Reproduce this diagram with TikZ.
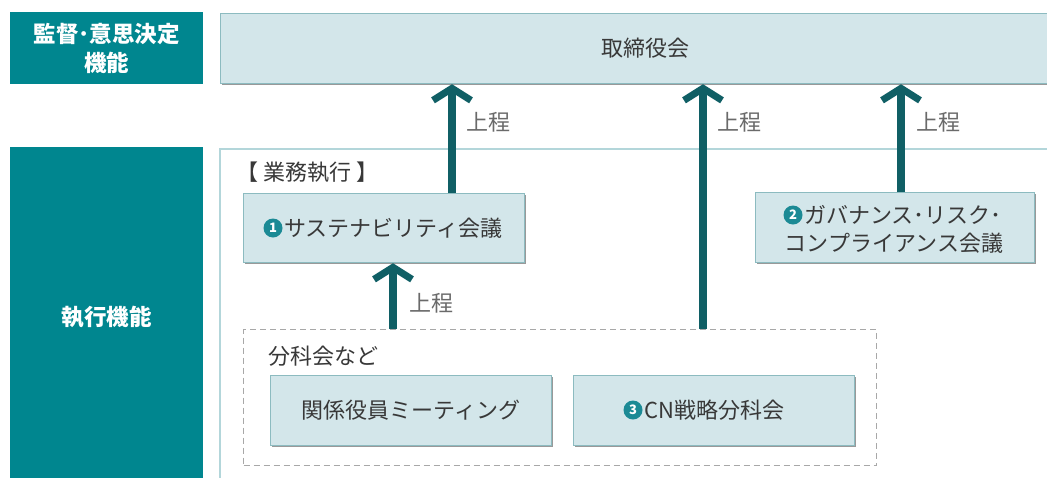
\documentclass[tikz,border=0pt]{standalone}
\usepackage{fontspec}
\setmainfont{Noto Sans CJK JP}
\usetikzlibrary{arrows.meta,shadows}
\definecolor{teal1}{HTML}{00868F}
\definecolor{arrowc}{HTML}{105F65}
\definecolor{boxfill}{HTML}{D3E6EA}
\definecolor{boxline}{HTML}{8CBBC0}
\definecolor{outl}{HTML}{B3D6DA}
\definecolor{dashc}{HTML}{A8A8A8}
\definecolor{txt}{HTML}{383838}
\definecolor{lbl}{HTML}{6A6A6A}
\definecolor{numteal}{HTML}{1B8A95}
\begin{document}
\begin{tikzpicture}[x=1pt,y=-1pt,
  tealbox/.style={fill=teal1,draw=none,anchor=north west,inner sep=0pt,text=white,font=\bfseries\fontsize{22.5}{29}\selectfont,align=center},
  lightbox/.style={fill=boxfill,draw=boxline,line width=1.2pt,anchor=north west,inner sep=0pt,
     drop shadow={shadow xshift=1.5pt,shadow yshift=-1.5pt,fill=black!40,opacity=1},
     text=txt,font=\fontsize{22}{28}\selectfont},
  maintext/.style={text=txt,font=\fontsize{22}{28}\selectfont,inner sep=0pt},
  lbltext/.style={text=lbl,font=\fontsize{22}{22}\selectfont,anchor=west,inner sep=0pt},
  numc/.style={circle,fill=numteal,text=white,inner sep=0pt,minimum size=19pt,font=\bfseries\fontsize{13}{13}\selectfont},
  arr/.style={draw=arrowc,line width=8pt,-{Straight Barb[length=12pt,width=38pt,line width=7pt]}}
]
\useasboundingbox (0,0) rectangle (1047,477);
\fill[white] (0,0) rectangle (1047,477);
\clip (0,0) rectangle (1047,477);

% left column
\node[tealbox,minimum width=193pt,minimum height=72pt] (sup) at (10,12) {監督･意思決定\\機能};
\node[tealbox,minimum width=193pt,minimum height=340pt] (exe) at (10,147) {執行機能};

% execution area
\node[draw=outl,line width=1.5pt,fill=white,anchor=north west,minimum width=900pt,minimum height=400pt,inner sep=0pt] (area) at (219,148) {};

% board
\node[lightbox,minimum width=850pt,minimum height=70pt] (board) at (220,13) {取締役会};

\node[maintext,anchor=west] (gyomu) at (236,172) {【 業務執行 】};

% sustainability
\node[lightbox,minimum width=281pt,minimum height=69pt] (sus) at (243,193) {};
\node[numc] (n1) at (273,228) {1};
\node[maintext,anchor=west] (sustext) at (284,228) {サステナビリティ会議};

% governance
\node[lightbox,minimum width=279pt,minimum height=70pt] (gov) at (755,192) {};
\node[numc] (n2) at (793,215) {2};
\node[maintext,anchor=west] (govt1) at (804,215) {ガバナンス･リスク･};
\node[maintext] (govt2) at (894,243) {コンプライアンス会議};

% subcommittees
\node[draw=dashc,dash pattern=on 6pt off 4pt,line width=1.2pt,anchor=north west,minimum width=633pt,minimum height=136pt,inner sep=0pt] (grp) at (243,329) {};
\node[maintext,anchor=west] (grplbl) at (268,356) {分科会など};
\node[lightbox,minimum width=281pt,minimum height=70pt] (kan) at (270,375) {関係役員ミーティング};
\node[lightbox,minimum width=281pt,minimum height=70pt] (cn) at (573,375) {};
\node[numc] (n3) at (633,410) {3};
\node[maintext,anchor=west] (cntext) at (644,410) {CN戦略分科会};

% arrows
\coordinate (x1) at (452,0);
\coordinate (x2) at (703,0);
\coordinate (x3) at (901,0);
\coordinate (x4) at (393,0);
\draw[arr] (sus.north -| x1) -- (board.south -| x1);
\draw[arr] (grp.north -| x2) -- (board.south -| x2);
\draw[arr] (gov.north -| x3) -- (board.south -| x3);
\draw[arr] (grp.north -| x4) -- (sus.south -| x4);

\node[lbltext] (l1) at (466,122) {上程};
\node[lbltext] (l2) at (717,122) {上程};
\node[lbltext] (l3) at (916,122) {上程};
\node[lbltext] (l4) at (409,303) {上程};
\end{tikzpicture}
\end{document}
